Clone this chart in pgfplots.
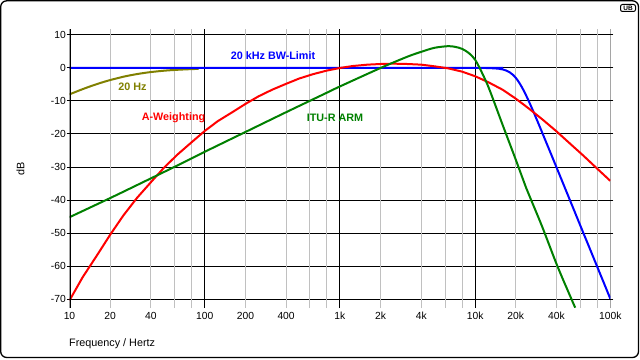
\documentclass[border=0pt]{standalone}
\usepackage{fontspec}
\setmainfont{Liberation Sans}
\usepackage{pgfplots}
\pgfplotsset{compat=1.18}
\definecolor{olivec}{HTML}{808000}
\definecolor{greenc}{HTML}{008000}
\definecolor{gridgray}{HTML}{C0C0C0}
\begin{document}
\begin{tikzpicture}[x=1pt,y=1pt]
\useasboundingbox (0,0) rectangle (640,359);
\draw[line width=1.3pt, rounded corners=6pt] (0.7,1.5) rectangle (638.5,358.2);
\draw[line width=1pt, rounded corners=2pt] (620.5,347.5) rectangle (635.5,354.5);
\node[font=\bfseries\fontsize{6.5}{7}\selectfont, inner sep=0pt] at (628,351) {UB};
\begin{axis}[
  at={(69.5pt,51pt)}, anchor=south west, scale only axis,
  width=540.8pt, height=279pt,
  xmode=log, xmin=10, xmax=100000, ymin=-72.7, ymax=11.8,
  axis line style={draw=none},
  xtick={10,20,40,100,200,400,1000,2000,4000,10000,20000,40000,100000},
  xticklabels={10,20,40,100,200,400,1k,2k,4k,10k,20k,40k,100k},
  minor xtick={}, minor x tick num=0,
  xtick style={draw=none},
  minor tick style={draw=none},
  ytick={-70,-60,-50,-40,-30,-20,-10,0,10},
  yticklabels={-70,-60,-50,-40,-30,-20,-10,0,10},
  ytick style={black, line width=1pt},
  tick align=outside, major tick length=3pt,
  xmajorgrids=false, xminorgrids=false, ymajorgrids=true,
  major grid style={black, line width=1pt},
  tick label style={font=\fontsize{10.3}{12}\selectfont, black},
  yticklabel style={inner sep=0pt, xshift=-0.5pt},
  xticklabel style={inner sep=0pt, yshift=-1pt},
  clip=true,
]
\pgfplotsinvokeforeach{20,40,60,80,200,400,600,800,2000,4000,6000,8000,20000,40000,60000,80000}{
  \draw[gridgray, line width=1pt] (axis cs:#1,-72.7) -- (axis cs:#1,11.8);
}
\pgfplotsinvokeforeach{100,1000,10000,100000}{
  \draw[black, line width=1pt] (axis cs:#1,-72.7) -- (axis cs:#1,11.8);
}
\addplot[olivec, line width=2pt, smooth] coordinates {
 (10,-8.0) (12,-6.70) (14,-5.68) (16,-4.87) (18,-4.20) (20,-3.66) (25,-2.66)
 (30,-2.01) (35,-1.56) (40,-1.24) (50,-0.83) (60,-0.60) (70,-0.45) (80,-0.35) (90,-0.27)
};
\addplot[blue, line width=2pt, smooth] coordinates {
 (10,0) (10000,0) (12000,-0.03) (14000,-0.12) (15000,-0.24) (16000,-0.44) (17000,-0.78)
 (18000,-1.30) (19000,-2.04) (20000,-3.01) (21000,-4.20) (22000,-5.56) (23000,-7.03)
 (24000,-8.57) (25000,-10.13) (27000,-13.24) (30000,-17.68) (33000,-21.8) (36000,-25.54)
 (40000,-30.1) (45000,-35.22) (50000,-39.79) (56000,-44.72) (63000,-49.84) (71000,-55.0)
 (80000,-60.2) (90000,-65.3) (100000,-69.9)
};
\addplot[red, line width=2pt] coordinates {
 (10,-70.4) (12.5,-63.4) (16,-56.7) (20,-50.5) (25,-44.7) (31.5,-39.4) (40,-34.6)
 (50,-30.2) (63,-26.2) (80,-22.5) (100,-19.1) (125,-16.1) (160,-13.4) (200,-10.9)
 (250,-8.6) (315,-6.6) (400,-4.8) (500,-3.2) (630,-1.9) (800,-0.8) (1000,0)
 (1250,0.6) (1600,1.0) (2000,1.2) (2500,1.3) (3150,1.2) (4000,1.0) (5000,0.5)
 (6300,-0.1) (8000,-1.1) (10000,-2.5) (12500,-4.3) (16000,-6.6) (20000,-9.3)
 (25000,-12.3) (31500,-15.6) (40000,-19.2) (50000,-22.8) (63000,-26.5) (80000,-30.5) (100000,-34.2)
};
\addplot[greenc, line width=2pt, smooth] coordinates {
 (10,-45.2) (20,-39.4) (31.5,-35.5) (63,-29.5) (100,-25.4) (200,-19.4) (400,-13.4)
 (800,-7.5) (1000,-5.6) (2000,0.0) (3150,3.4) (4000,4.9) (5000,6.1) (6300,6.6)
 (7100,6.4) (8000,5.8) (9000,4.5) (10000,2.5) (11200,-1.3) (12500,-5.6) (14000,-10.9)
 (16000,-17.3) (20000,-27.8) (23900,-36.4) (26100,-40.2) (31500,-48.3) (40600,-60)
 (51600,-70) (55000,-72.6)
};
\draw[line width=2.6pt] (rel axis cs:0,0) -- (rel axis cs:0,1);
\end{axis}
\node[rotate=90, font=\fontsize{10.8}{12}\selectfont] at (20.5,190) {dB};
\node[anchor=base west, inner sep=0pt, font=\fontsize{10.8}{12}\selectfont] at (69,13) {Frequency / Hertz};
\node[anchor=base, inner sep=0pt, text=olivec, font=\bfseries\fontsize{10.8}{12}\selectfont] at (132.5,268.3) {20 Hz};
\node[anchor=base, inner sep=0pt, text=red, font=\bfseries\fontsize{10.8}{12}\selectfont] at (173.5,238) {A-Weighting};
\node[anchor=base, inner sep=0pt, text=blue, font=\bfseries\fontsize{10.8}{12}\selectfont] at (273,299.7) {20 kHz BW-Limit};
\node[anchor=base, inner sep=0pt, text=greenc, font=\bfseries\fontsize{10.8}{12}\selectfont] at (335,237.3) {ITU-R ARM};
\end{tikzpicture}
\end{document}
